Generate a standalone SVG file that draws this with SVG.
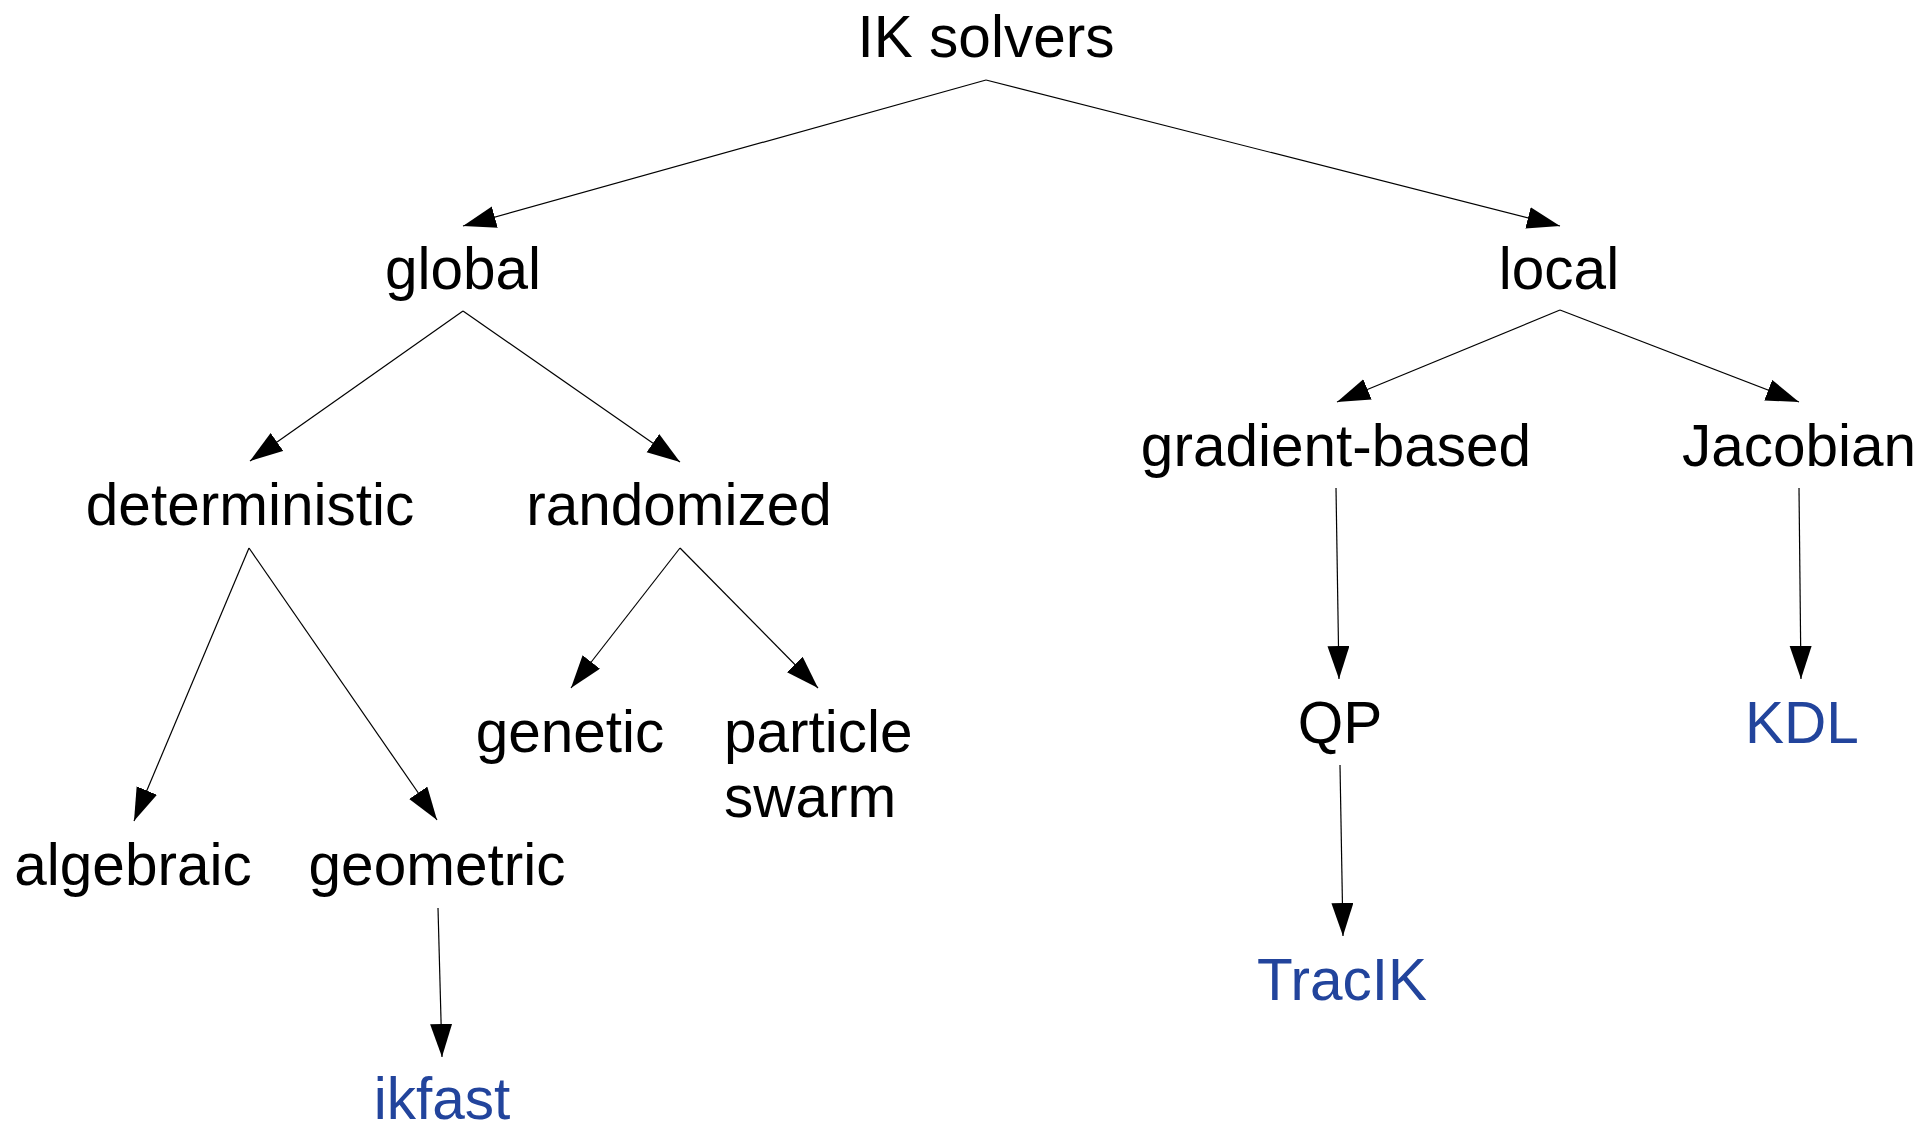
<svg xmlns="http://www.w3.org/2000/svg" width="1923" height="1123" viewBox="0 0 1923 1123">
  <style>
    .label { font-family: "Liberation Sans", Arial, sans-serif; font-size: 58.5px; fill: #000; text-anchor: middle; }
    .tool { fill: #22449c; }
    .edge { stroke: #000; stroke-width: 1.2; fill: none; marker-end: url(#arrow); }
  </style>
  <defs>
    <marker id="arrow" markerUnits="userSpaceOnUse" markerWidth="34" markerHeight="24" refX="33" refY="11" orient="auto">
      <path d="M0,0 L33,11 L0,22 z" fill="#000"/>
    </marker>
  </defs>
  <rect width="1923" height="1123" fill="#fff"/>

  <g id="connectors">
    <line class="edge" x1="986" y1="80" x2="463" y2="226"/>
    <line class="edge" x1="986" y1="80" x2="1560" y2="226"/>
    <line class="edge" x1="463" y1="311" x2="250" y2="461"/>
    <line class="edge" x1="463" y1="311" x2="680" y2="462"/>
    <line class="edge" x1="1560" y1="310" x2="1337" y2="402"/>
    <line class="edge" x1="1560" y1="310" x2="1799" y2="402"/>
    <line class="edge" x1="249" y1="548" x2="134" y2="821"/>
    <line class="edge" x1="249" y1="548" x2="437" y2="820"/>
    <line class="edge" x1="680" y1="548" x2="571" y2="688"/>
    <line class="edge" x1="680" y1="548" x2="818" y2="688"/>
    <line class="edge" x1="1336" y1="488" x2="1339" y2="679"/>
    <line class="edge" x1="1799" y1="488" x2="1801" y2="679"/>
    <line class="edge" x1="1340" y1="765" x2="1343" y2="936"/>
    <line class="edge" x1="438" y1="908" x2="442" y2="1057"/>
  </g>

  <g id="ik-solvers"><text class="label" x="986" y="57">IK solvers</text></g>
  <g id="global"><text class="label" x="463" y="289">global</text></g>
  <g id="local"><text class="label" x="1559" y="289">local</text></g>
  <g id="deterministic"><text class="label" x="250" y="525">deterministic</text></g>
  <g id="randomized"><text class="label" x="679" y="525">randomized</text></g>
  <g id="gradient-based"><text class="label" x="1336" y="466">gradient-based</text></g>
  <g id="jacobian"><text class="label" x="1799" y="466">Jacobian</text></g>
  <g id="genetic"><text class="label" x="570" y="752">genetic</text></g>
  <g id="particle-swarm">
    <text class="label" style="text-anchor:start" x="724" y="752">particle</text>
    <text class="label" style="text-anchor:start" x="724" y="817">swarm</text>
  </g>
  <g id="algebraic"><text class="label" x="133" y="885">algebraic</text></g>
  <g id="geometric"><text class="label" x="437" y="885">geometric</text></g>
  <g id="qp"><text class="label" x="1340" y="743">QP</text></g>
  <g id="kdl"><text class="label tool" x="1802" y="743">KDL</text></g>
  <g id="tracik"><text class="label tool" x="1342" y="1000">TracIK</text></g>
  <g id="ikfast"><text class="label tool" x="442" y="1119">ikfast</text></g>
</svg>
